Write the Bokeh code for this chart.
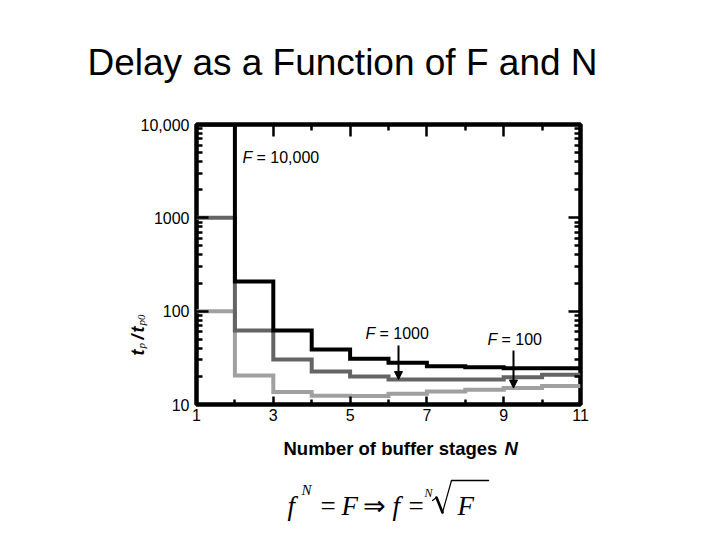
from math import pi
from bokeh.plotting import figure
from bokeh.layouts import column
from bokeh.models import (Range1d, LinearAxis, LogAxis, FixedTicker, Label,
                          Arrow, NormalHead)
from bokeh.embed import file_html
from bokeh.resources import INLINE

# ---------------- data ----------------
stages = [1, 2, 3, 4, 5, 6, 7, 8, 9, 10, 11]
delay_F10000 = [10000, 208, 62, 38.8, 30.9, 28.0, 25.7, 25.1, 24.5, 24.5]
delay_F1000 = [1000, 62, 30.3, 22.6, 20.0, 18.5, 18.5, 18.5, 19.6, 20.8]
delay_F100 = [100, 20.5, 13.6, 12.4, 12.3, 13.0, 13.8, 14.4, 15.0, 15.8]

x_major = [1, 3, 5, 7, 9, 11]
x_minor = [2, 4, 6, 8, 10]
y_major = [10, 100, 1000, 10000]
y_major_labels = ["10", "100", "1000", "10,000"]
y_minor = [m * 10 ** d for d in (1, 2, 3) for m in range(2, 10)]

title_text = "Delay as a Function of F and N"
xlabel_text = "Number of buffer stages"
series_values = ["10,000", "1000", "100"]

# ---------------- layout helpers (page px -> data) ----------------
W = 704
H_MAIN = 436
H_FORM = 88
FL, FR, FT, FB = 196.0, 580.0, 124.0, 404.0


def dx(px):
    return 1 + (px - FL) * 10.0 / (FR - FL)


def dy(py):
    return 10 ** (1 + (FB - py) * 3.0 / (FB - FT))


SANS = "Liberation Sans"
SERIF = "Liberation Serif"

p = figure(width=W, height=H_MAIN, x_range=Range1d(1, 11),
           y_range=Range1d(10, 10000), y_axis_type="log",
           output_backend="svg", toolbar_location=None, title=None,
           min_border_left=int(FL), min_border_right=int(W - FR),
           min_border_top=int(FT), min_border_bottom=int(H_MAIN - FB))
p.background_fill_color = "white"
p.border_fill_color = "white"
p.outline_line_color = "black"
p.outline_line_width = 4.5
p.xgrid.visible = False
p.ygrid.visible = False

# bottom axis
xa = p.xaxis[0]
xa.ticker = FixedTicker(ticks=x_major, minor_ticks=x_minor)
xa.axis_line_color = None
xa.major_tick_in = 8
xa.major_tick_out = 0
xa.minor_tick_in = 5
xa.minor_tick_out = 0
xa.major_tick_line_width = 2.5
xa.minor_tick_line_width = 2.5
xa.major_label_text_font = SANS
xa.major_label_text_font_size = "16px"
xa.major_label_text_color = "black"
xa.major_label_standoff = 4

# left axis
ya = p.yaxis[0]
ya.ticker = FixedTicker(ticks=y_major, minor_ticks=y_minor)
ya.major_label_overrides = {v: s for v, s in zip(y_major, y_major_labels)}
ya.axis_line_color = None
ya.major_tick_in = 12
ya.major_tick_out = 0
ya.minor_tick_in = 6
ya.minor_tick_out = 0
ya.major_tick_line_width = 2.5
ya.minor_tick_line_width = 2.5
ya.major_label_text_font = SANS
ya.major_label_text_font_size = "16px"
ya.major_label_text_color = "black"
ya.major_label_standoff = 7

# top axis
ta = LinearAxis(ticker=FixedTicker(ticks=x_major, minor_ticks=x_minor),
                axis_line_color=None, major_tick_in=12, major_tick_out=0,
                minor_tick_in=6, minor_tick_out=0,
                major_tick_line_width=2.5, minor_tick_line_width=2.5,
                major_label_text_color=None)
p.add_layout(ta, "above")

# right axis
ra = LogAxis(ticker=FixedTicker(ticks=y_major, minor_ticks=y_minor),
             axis_line_color=None, major_tick_in=12, major_tick_out=0,
             minor_tick_in=6, minor_tick_out=0,
             major_tick_line_width=2.5, minor_tick_line_width=2.5,
             major_label_text_color=None)
p.add_layout(ra, "right")

# step curves (value at N held from N to N+1)
for vals, col in [(delay_F100, "#a0a0a0"), (delay_F1000, "#646464"),
                  (delay_F10000, "#000000")]:
    p.step(x=stages, y=vals + [vals[-1]], mode="after", line_width=4,
           line_color=col, line_join="miter")


def lab(text, px, py, size, font=SANS, style="normal", align="left",
        angle=0.0, place="center", fig=None, conv=True):
    fig = fig or p
    x, y = (dx(px), dy(py)) if conv else (px, py)
    lbl = Label(x=x, y=y, text=text, text_font=font,
                text_font_size=size, text_font_style=style,
                text_align=align, text_baseline="alphabetic",
                text_color="black", angle=angle)
    if place == "center":
        fig.add_layout(lbl)
    else:
        fig.add_layout(lbl, place)


# title (in the top side panel, positioned by data coords)
lab(title_text, 87, 62, "37px", place="above")

# series labels (inside the frame)
lab("F", 242, 157, "16px", style="italic")
lab("= " + series_values[0], 256, 157, "16px")
lab("F", 365, 333, "16px", style="italic")
lab("= " + series_values[1], 379, 333, "16px")
lab("F", 487, 339, "16px", style="italic")
lab("= " + series_values[2], 501, 339, "16px")

# arrows
p.add_layout(Arrow(x_start=dx(398), y_start=dy(345), x_end=dx(398),
                   y_end=delay_F1000[5], line_width=2, line_color="black",
                   end=NormalHead(size=8, fill_color="black",
                                  line_color="black", line_width=1)))
p.add_layout(Arrow(x_start=dx(513), y_start=dy(350), x_end=dx(513),
                   y_end=delay_F100[8], line_width=2, line_color="black",
                   end=NormalHead(size=8, fill_color="black",
                                  line_color="black", line_width=1)))

# y axis label (rotated): t_p / t_p0
lab("t", 137, 355, "18px", style="bold italic", angle=pi / 2, place="left")
lab("p", 140, 348, "11px", font=SERIF, style="italic", angle=pi / 2, place="left")
lab("/", 137, 339, "18px", style="bold italic", angle=pi / 2, place="left")
lab("t", 137, 332, "18px", style="bold italic", angle=pi / 2, place="left")
lab("p0", 140, 325, "11px", font=SERIF, style="italic", angle=pi / 2, place="left")

# ---------------- strip below: x label and formula ----------------
pf = figure(width=W, height=H_FORM, x_range=Range1d(FL, FR),
            y_range=Range1d(H_MAIN + H_FORM, H_MAIN),
            output_backend="svg", toolbar_location=None, title=None,
            x_axis_location=None, y_axis_location=None,
            min_border_left=int(FL), min_border_right=int(W - FR),
            min_border_top=0, min_border_bottom=0)
pf.outline_line_color = None
pf.background_fill_color = "white"
pf.border_fill_color = "white"
pf.xgrid.visible = False
pf.ygrid.visible = False


def flab(text, px, py, size, style="normal", font=SERIF):
    lab(text, px, py, size, font=font, style=style, fig=pf, conv=False)


def stroke(x0, y0, x1, y1, w):
    pf.add_layout(Arrow(x_start=x0, y_start=y0, x_end=x1, y_end=y1,
                        line_width=w, line_color="black", end=None,
                        line_cap="round"))


# x axis label
flab(xlabel_text, 283, 448, "18.5px", style="bold", font=SANS)
flab("N", 504, 448, "18.5px", style="bold italic", font=SANS)

# f^N = F  =>  f = N-th root of F
BIG = "27px"
flab("f", 287, 505, BIG, style="italic")
flab("N", 301, 489, "15px", style="italic")
flab("=", 320, 505, BIG)
flab("F", 341, 505, BIG, style="italic")
flab("\u21d2", 362, 505, BIG)
flab("f", 392, 505, BIG, style="italic")
flab("=", 408, 505, BIG)
flab("N", 424, 492, "12px", style="italic")
# radical sign drawn as strokes
stroke(432, 500, 436, 497, 1.2)
stroke(436, 497, 442, 512, 2.6)
stroke(442, 512, 451, 480, 1.2)
stroke(451, 480, 488, 480, 1.4)
flab("F", 457, 505, BIG, style="italic")

layout = column(p, pf, spacing=0)
open("out.html", "w").write(file_html(layout, INLINE))
